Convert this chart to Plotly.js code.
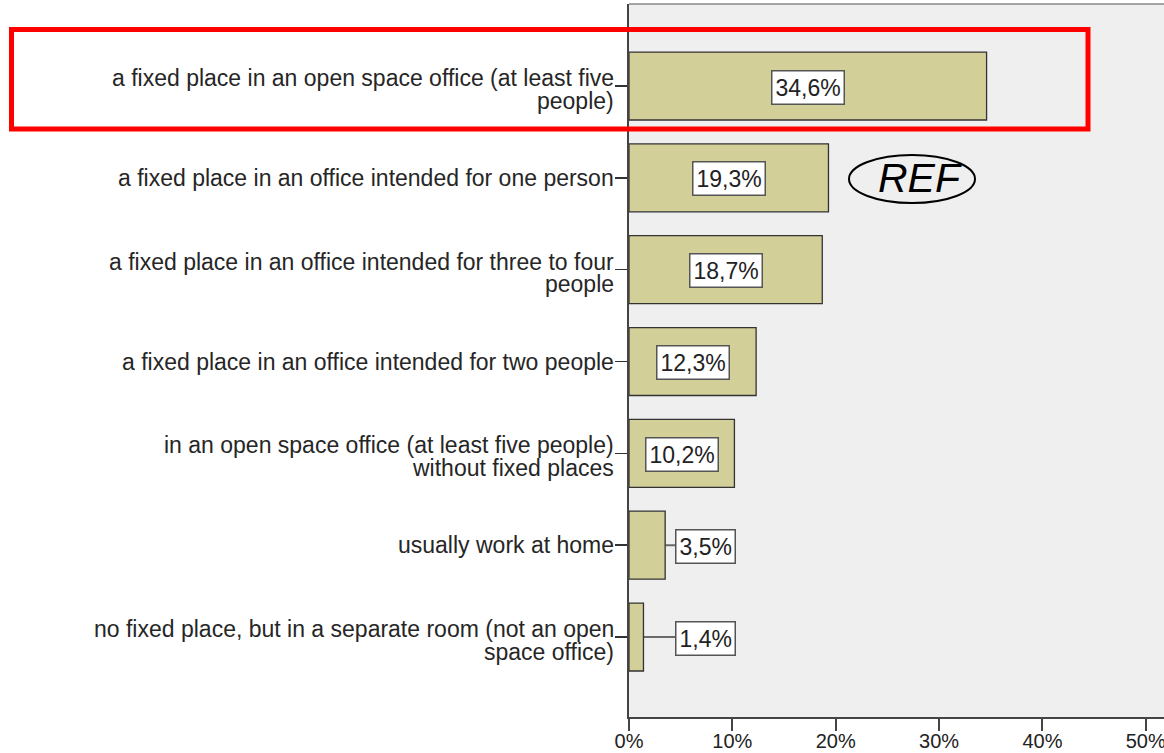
<!DOCTYPE html>
<html>
<head>
<meta charset="utf-8">
<script src="https://cdn.plot.ly/plotly-3.0.1.min.js"></script>
<style>html,body{margin:0;padding:0;background:#fff;}</style>
</head>
<body>
<div id="chart" style="width:1164px;height:753px;"></div>
<script>
// ---- data ----
const categories = [
  "a fixed place in an open space office (at least five people)",
  "a fixed place in an office intended for one person",
  "a fixed place in an office intended for three to four people",
  "a fixed place in an office intended for two people",
  "in an open space office (at least five people) without fixed places",
  "usually work at home",
  "no fixed place, but in a separate room (not an open space office)"
];
const labelLines = [
  ["a fixed place in an open space office (at least five", "people)"],
  ["a fixed place in an office intended for one person"],
  ["a fixed place in an office intended for three to four", "people"],
  ["a fixed place in an office intended for two people"],
  ["in an open space office (at least five people)", "without fixed places"],
  ["usually work at home"],
  ["no fixed place, but in a separate room (not an open", "space office)"]
];
const values = [34.6, 19.3, 18.7, 12.3, 10.2, 3.5, 1.4];
const tickVals = [0, 10, 20, 30, 40, 50];
const tickText = ["0%", "10%", "20%", "30%", "40%", "50%"];

// ---- layout helpers ----
const W = 1164, H = 753, L = 629, T = 4, B = 36;
const plotW = W - L, plotH = H - T - B;
const pxX = x => (x - L) / plotW;
const pxY = y => (H - B - y) / plotH;
const FONT = "Liberation Sans, Arial, sans-serif";

const fmt = v => v.toFixed(1).replace(".", ",") + "%";

const annotations = [];
const shapes = [];

// category labels
labelLines.forEach((lines, i) => {
  const shifts = lines.length === 2 ? [8, -14.5] : [0];
  lines.forEach((t, k) => {
    annotations.push({
      xref: "paper", yref: "y", x: 0, y: i, xanchor: "right", yanchor: "middle",
      xshift: -13, yshift: shifts[k], text: t, showarrow: false,
      font: {family: FONT, size: 23, color: "#262626"}
    });
  });
});

// value labels
const outsideX = 7.4;
values.forEach((v, i) => {
  const inside = v >= 8;
  const lx = inside ? v / 2 : outsideX;
  if (!inside) {
    shapes.push({type: "line", xref: "x", yref: "y", x0: v, x1: lx, y0: i, y1: i,
      line: {color: "#6a6a6a", width: 2}, layer: "below"});
  }
  annotations.push({
    xref: "x", yref: "y", x: lx, y: i, xanchor: "center", yanchor: "middle",
    yshift: -1,
    text: fmt(v), showarrow: false, bgcolor: "#ffffff", bordercolor: "#555",
    borderwidth: 1.5, borderpad: 3,
    font: {family: FONT, size: 23, color: "#222"}
  });
});

// top border of plot area
shapes.push({type: "line", xref: "paper", yref: "paper", x0: 0, x1: 1, y0: 1, y1: 1,
  line: {color: "#888", width: 1.5}});

// highlight rectangle
shapes.push({type: "rect", xref: "paper", yref: "paper",
  x0: pxX(11.5), x1: pxX(1088), y0: pxY(129), y1: pxY(29.5),
  line: {color: "#ff0000", width: 5}, layer: "above"});

// REF ellipse
shapes.push({type: "circle", xref: "paper", yref: "paper",
  x0: pxX(849), x1: pxX(975), y0: pxY(203), y1: pxY(155),
  line: {color: "#000", width: 2}, layer: "above"});
annotations.push({xref: "paper", yref: "paper", x: pxX(920), y: pxY(178),
  xanchor: "center", yanchor: "middle", text: "REF", showarrow: false,
  font: {family: FONT, size: 41, color: "#000", style: "italic"}});

const trace = {
  type: "bar", orientation: "h", y: categories, x: values,
  width: 0.74,
  marker: {color: "#d3cf98", line: {color: "#333", width: 1.3}},
  hoverinfo: "none"
};

const layout = {
  width: W, height: H,
  margin: {l: L, r: 0, t: T, b: B, pad: 0},
  paper_bgcolor: "#ffffff", plot_bgcolor: "#efefef",
  showlegend: false, bargap: 0.26,
  xaxis: {
    range: [0, plotW / 10.335], tickvals: tickVals, ticktext: tickText,
    ticks: "outside", ticklen: 12, tickwidth: 2, tickcolor: "#444",
    ticklabelstandoff: -7, ticklabeloverflow: "allow",
    showline: true, linecolor: "#444", linewidth: 2, showgrid: false, zeroline: false,
    tickfont: {family: FONT, size: 20, color: "#222"}, fixedrange: true
  },
  yaxis: {
    type: "category", range: [6.871, -0.893], autorange: false,
    ticks: "outside", ticklen: 12, tickwidth: 1.5, tickcolor: "#333",
    showticklabels: false, showline: true, linecolor: "#444", linewidth: 2,
    showgrid: false, zeroline: false, fixedrange: true
  },
  annotations: annotations,
  shapes: shapes,
  hovermode: false
};

Plotly.newPlot("chart", [trace], layout, {displayModeBar: false, staticPlot: true});
</script>
</body>
</html>
